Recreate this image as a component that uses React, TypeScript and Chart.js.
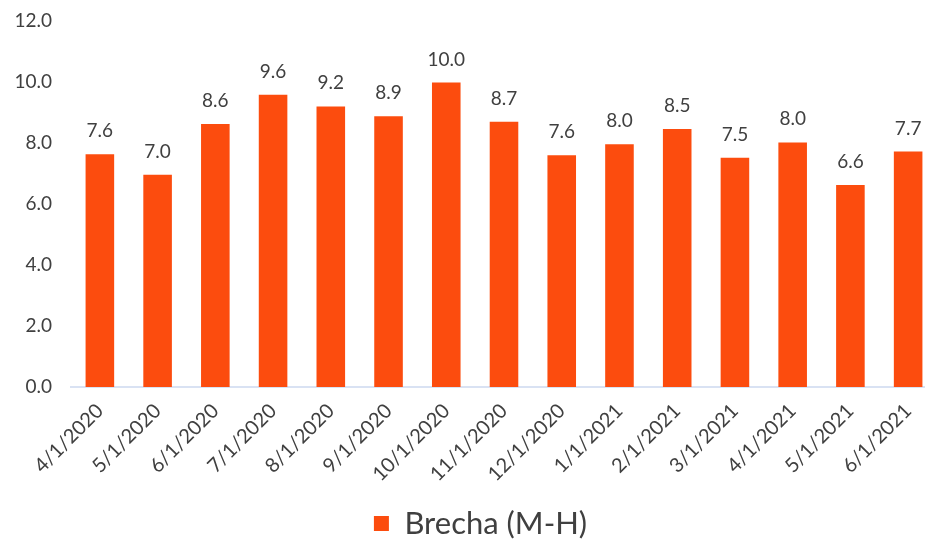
import React, { useEffect, useRef } from "react";
import { Chart, registerables } from "chart.js";

Chart.register(...registerables);

const categories = [
  "4/1/2020", "5/1/2020", "6/1/2020", "7/1/2020", "8/1/2020", "9/1/2020",
  "10/1/2020", "11/1/2020", "12/1/2020", "1/1/2021", "2/1/2021", "3/1/2021",
  "4/1/2021", "5/1/2021", "6/1/2021",
];
const brecha = [7.63, 6.96, 8.62, 9.58, 9.2, 8.88, 9.98, 8.7, 7.6, 7.96, 8.46, 7.52, 8.02, 6.62, 7.72];
const seriesLabel = "Brecha (M-H)";
const yTicks = [0, 2, 4, 6, 8, 10, 12];

const FONT = "Lato, 'Noto Sans', sans-serif";
const TEXT = "#404040";
const BAR = "#FC4C0E";

const dataLabels = {
  id: "dataLabels",
  afterDatasetsDraw(chart: any) {
    const { ctx } = chart;
    const meta = chart.getDatasetMeta(0);
    ctx.save();
    ctx.font = `19px ${FONT}`;
    ctx.fillStyle = TEXT;
    ctx.textAlign = "center";
    ctx.textBaseline = "alphabetic";
    meta.data.forEach((bar: any, i: number) => {
      const v = chart.data.datasets[0].data[i] as number;
      ctx.fillText(v.toFixed(1), bar.x, bar.y - 17);
    });
    ctx.restore();
  },
};

const legendShift = {
  id: "legendShift",
  afterLayout(chart: any) {
    const lg = chart.legend;
    if (lg) {
      lg.left += 12;
      lg.right += 12;
    }
  },
};

export default function App() {
  const ref = useRef<HTMLCanvasElement>(null);
  useEffect(() => {
    if (!ref.current) return;
    const chart = new Chart(ref.current, {
      type: "bar",
      data: {
        labels: categories,
        datasets: [
          {
            label: seriesLabel,
            data: brecha,
            backgroundColor: BAR,
            borderWidth: 0,
            barPercentage: 0.5,
            categoryPercentage: 0.99,
          },
        ],
      },
      options: {
        responsive: false,
        animation: false,
        layout: { padding: { top: 21, right: 3, left: 0, bottom: -8 } },
        plugins: {
          tooltip: { enabled: false },
          legend: {
            position: "bottom",
            labels: {
              font: { family: FONT, size: 31 },
              color: TEXT,
              boxWidth: 15,
              boxHeight: 15,
              padding: 6,
            },
          },
        },
        scales: {
          y: {
            min: 0,
            max: 12,
            afterBuildTicks: (scale: any) => {
              scale.ticks = yTicks.map((v) => ({ value: v }));
            },
            afterFit: (scale: any) => {
              scale.width = 71;
              scale.paddingTop = 0;
              scale.paddingBottom = 0;
            },
            grid: { display: false, drawTicks: false },
            border: { display: false },
            ticks: {
              padding: 19,
              color: TEXT,
              font: { family: FONT, size: 19 },
              callback: (v: any) => Number(v).toFixed(1),
            },
          },
          x: {
            afterFit: (scale: any) => {
              scale.height = 115;
            },
            grid: { display: false, drawTicks: false },
            border: { display: true, color: "#D9E2F3", width: 2 },
            ticks: {
              minRotation: 45,
              maxRotation: 45,
              autoSkip: false,
              padding: 12,
              color: TEXT,
              font: { family: FONT, size: 20 },
            },
          },
        },
      },
      plugins: [dataLabels, legendShift],
    });
    return () => chart.destroy();
  }, []);
  return (
    <div style={{ position: "fixed", left: 0, top: 0, width: 925, height: 541, overflow: "hidden", background: "#fff" }}>
      <canvas ref={ref} width={940} height={541} style={{ width: 940, height: 541, display: "block" }} />
    </div>
  );
}
